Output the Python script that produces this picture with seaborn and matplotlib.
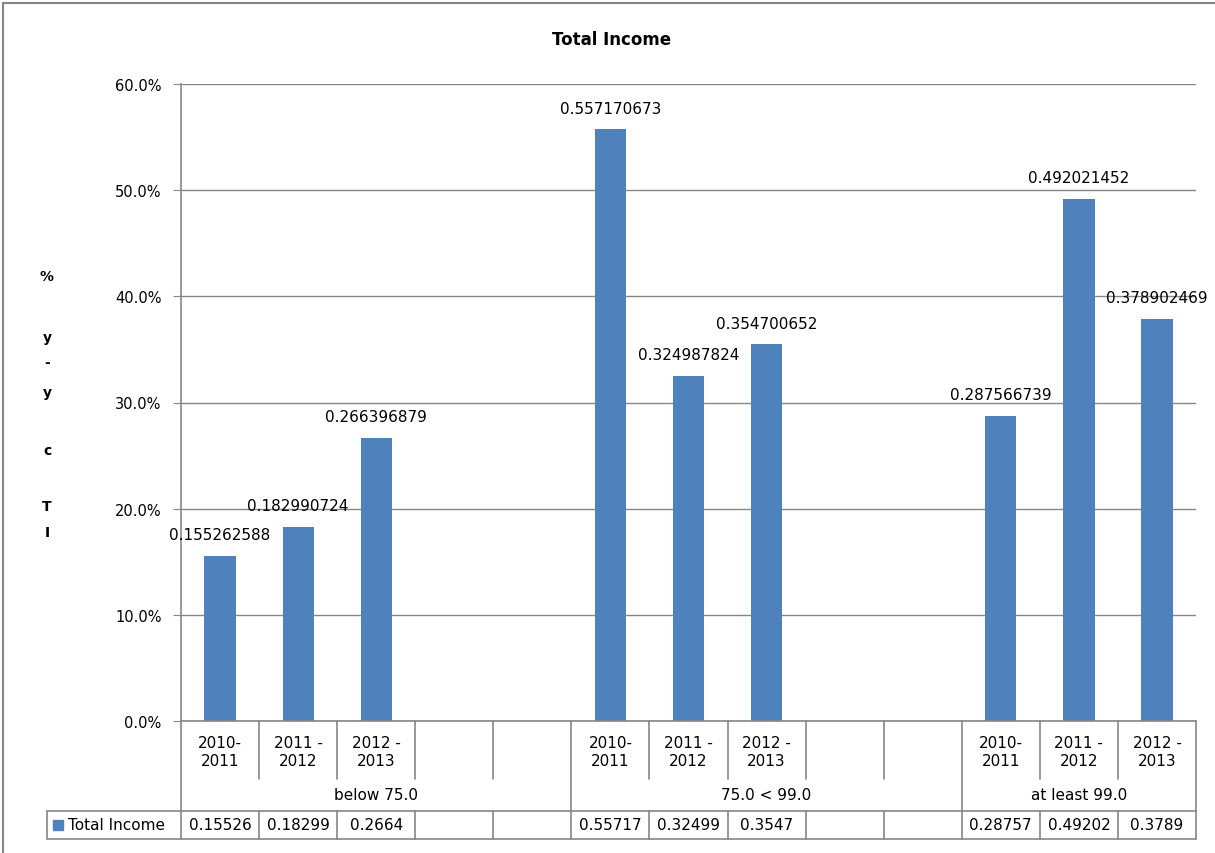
import numpy as np
import pandas as pd
import matplotlib
matplotlib.use("Agg")
import matplotlib.pyplot as plt
from matplotlib.lines import Line2D
from matplotlib.patches import Rectangle
from matplotlib.ticker import PercentFormatter
import seaborn as sns

# data
groups = ["below 75.0", "75.0 < 99.0", "at least 99.0"]
years = ["2010-\n2011", "2011 -\n2012", "2012 -\n2013"]
below_75 = [0.155262588, 0.182990724, 0.266396879]
mid_75_99 = [0.557170673, 0.324987824, 0.354700652]
atleast_99 = [0.287566739, 0.492021452, 0.378902469]
blank_slots = [2, 2, 0]  # empty category slots after each group in the source sheet
series_name = "Total Income"

BAR = "#4F81BD"
GRAY = "#868686"
W, H = 1215, 854

# build slot table (13 category positions, blanks have no value)
rows = []
slot = 0
for g, vals, nb in zip(groups, [below_75, mid_75_99, atleast_99], blank_slots):
    for y, v in zip(years, vals):
        rows.append({"slot": str(slot), "group": g, "year": y, "value": v})
        slot += 1
    for _ in range(nb):
        rows.append({"slot": str(slot), "group": g, "year": "", "value": np.nan})
        slot += 1
df = pd.DataFrame(rows)
n_slots = len(df)
order = list(df["slot"])

sns.set_style("white")
plt.rcParams["font.family"] = ["DejaVu Sans"]
plt.rcParams["text.color"] = "black"

fig = plt.figure(figsize=(W / 100, H / 100), dpi=100)
ax_l, ax_r, ax_t, ax_b = 181, 1196, 85, 722
ax = fig.add_axes([ax_l / W, 1 - ax_b / H, (ax_r - ax_l) / W, (ax_b - ax_t) / H])

sns.barplot(data=df.dropna(subset=["value"]), x="slot", y="value", order=order,
            color=BAR, width=0.4, errorbar=None, saturation=1, linewidth=0, ax=ax)
ax.bar_label(ax.containers[0], fmt="%.9f", padding=10, fontsize=11, color="black")

ax.set_xlim(-0.5, n_slots - 0.5)
ax.set_ylim(0, 0.6)
ax.set_yticks(np.arange(0, 0.61, 0.1))
ax.yaxis.set_major_formatter(PercentFormatter(1.0, decimals=1))
ax.set_xticks([])
ax.set_xlabel("")
ax.set_ylabel("")
ax.grid(axis="y", color=GRAY, lw=1)
ax.set_axisbelow(True)
for s in ["top", "right"]:
    ax.spines[s].set_visible(False)
for s in ["left", "bottom"]:
    ax.spines[s].set_color(GRAY)
    ax.spines[s].set_linewidth(1.2)
ax.tick_params(axis="y", direction="out", length=6, color=GRAY, labelsize=10.5,
               labelcolor="black", pad=8, left=True)

# data table under the axes
def fy(py):
    return (ax_b - py) / (ax_b - ax_t)

trans = ax.get_xaxis_transform()
px_per_slot = (ax_r - ax_l) / n_slots

def vline(x, y0, y1):
    ax.add_line(Line2D([x, x], [fy(y0), fy(y1)], transform=trans, color=GRAY,
                       lw=1.2, clip_on=False))

def hline(x0, x1, y):
    ax.add_line(Line2D([x0, x1], [fy(y), fy(y)], transform=trans, color=GRAY,
                       lw=1.2, clip_on=False))

row_year, row_group, row_data = 780, 812, 840
legend_left = -0.5 - (ax_l - 47) / px_per_slot

group_edges = np.cumsum([len(years) + nb for nb in blank_slots])[:-1] - 0.5
for k in range(n_slots + 1):
    x = k - 0.5
    if k in (0, n_slots) or x in group_edges:
        vline(x, ax_b, row_data)
    else:
        vline(x, ax_b, row_year)
        vline(x, row_group, row_data)
vline(legend_left, row_group, row_data)
hline(legend_left, n_slots - 0.5, row_group)
hline(legend_left, n_slots - 0.5, row_data)

for i, r in df.iterrows():
    if r["year"]:
        ax.text(i, fy(752), r["year"], transform=trans, ha="center", va="center",
                fontsize=11, linespacing=1.25)
        ax.text(i, fy(826), f"{r['value']:.5g}", transform=trans, ha="center",
                va="center", fontsize=11)

start = 0
for g, nb in zip(groups, blank_slots):
    n = len(years) + nb
    ax.text(start + (n - 1) / 2, fy(796), g, transform=trans, ha="center",
            va="center", fontsize=11)
    start += n

# legend key inside table
fig.patches.append(Rectangle((53 / W, 1 - 831 / H), 10 / W, 10 / H,
                             transform=fig.transFigure, color=BAR))
fig.text(68 / W, 1 - 826 / H, series_name, ha="left", va="center", fontsize=11)

# title and stacked y label
fig.text(612 / W, 1 - 40 / H, "Total Income", ha="center", va="center",
         fontsize=12, fontweight="bold")
for ch, py in zip(["%", "y", "-", "y", "c", "T", "I"], [277, 338, 363, 393, 451, 507, 533]):
    fig.text(47 / W, 1 - py / H, ch, ha="center", va="center", fontsize=10,
             fontweight="bold")

# chart area border
fig.add_artist(Line2D([3 / W, 3 / W], [0, 1 - 4 / H], transform=fig.transFigure,
                      color=GRAY, lw=1.5))
fig.add_artist(Line2D([3 / W, 1], [1 - 4 / H, 1 - 4 / H], transform=fig.transFigure,
                      color=GRAY, lw=1.5))

fig.savefig("out.png", dpi=100, facecolor="white")
